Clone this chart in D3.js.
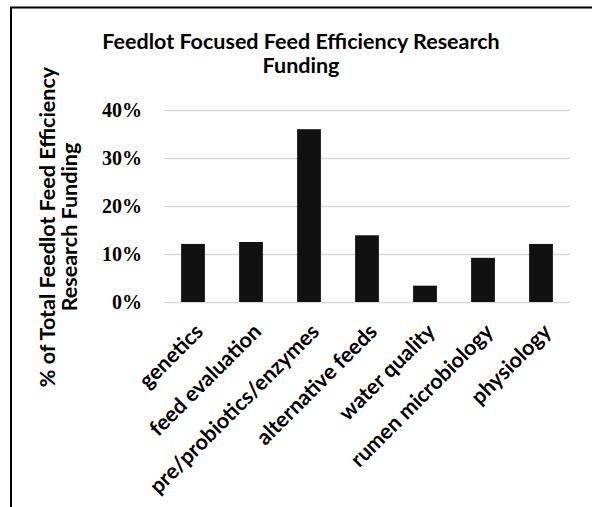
<!DOCTYPE html>
<html>
<head>
<meta charset="utf-8">
<script src="https://cdn.jsdelivr.net/npm/d3@7"></script>
<style>
  html, body { margin: 0; padding: 0; background: #fff; }
  svg { display: block; }
</style>
</head>
<body>
<svg id="chart" width="592" height="507"></svg>
<script>
const categories = ["genetics", "feed evaluation", "pre/probiotics/enzymes", "alternative feeds", "water quality", "rumen microbiology", "physiology"];
const values = [0.121, 0.125, 0.360, 0.139, 0.034, 0.092, 0.121];
const yTicks = [0, 0.1, 0.2, 0.3, 0.4];
const titleLines = ["Feedlot Focused Feed Efficiency Research", "Funding"];
const yTitleLines = ["% of Total Feedlot Feed Efficiency", "Research Funding"];

const svg = d3.select("#chart");
const sansFont = "Lato, 'Open Sans', sans-serif";
const serifFont = "'Liberation Serif', 'Times New Roman', serif";

// frame
svg.append("rect")
  .attr("x", 11).attr("y", 7.5)
  .attr("width", 700).attr("height", 700)
  .attr("fill", "none").attr("stroke", "#000").attr("stroke-width", 2);

const plot = { left: 164, right: 570, top: 110, bottom: 302 };

const x = d3.scaleBand()
  .domain(categories)
  .range([plot.left, plot.right])
  .paddingInner(0.59)
  .paddingOuter(0.295);

const y = d3.scaleLinear()
  .domain([0, 0.4])
  .range([plot.bottom, plot.top]);

// gridlines + tick labels
const yAxis = d3.axisLeft(y)
  .tickValues(yTicks)
  .tickFormat(d3.format(".0%"))
  .tickSize(-(plot.right - plot.left))
  .tickPadding(22);

const gy = svg.append("g")
  .attr("transform", `translate(${plot.left},0)`)
  .call(yAxis);
gy.select(".domain").remove();
gy.selectAll(".tick line").attr("stroke", "#d9d9d9").attr("stroke-width", 1.5);
gy.selectAll(".tick text")
  .attr("font-family", serifFont)
  .attr("font-weight", "bold")
  .attr("font-size", 20)
  .attr("fill", "#000");

// bars
svg.append("g").selectAll("rect")
  .data(categories)
  .join("rect")
  .attr("x", d => x(d))
  .attr("width", x.bandwidth())
  .attr("y", (d, i) => y(values[i]))
  .attr("height", (d, i) => y(0) - y(values[i]))
  .attr("fill", "#111");

// category labels
const xAxis = d3.axisBottom(x).tickSize(0).tickPadding(0);
const gx = svg.append("g")
  .attr("transform", `translate(0,${plot.bottom})`)
  .call(xAxis);
gx.select(".domain").remove();
gx.selectAll(".tick text")
  .attr("font-family", sansFont)
  .attr("font-weight", "bold")
  .attr("font-size", 21.5)
  .attr("fill", "#000")
  .attr("text-anchor", "end")
  .attr("dy", 0)
  .attr("y", 0)
  .attr("transform", "translate(11.5,31) rotate(-45)");

// title
svg.append("text")
  .attr("font-family", sansFont)
  .attr("font-weight", "bold")
  .attr("font-size", 21.5)
  .attr("text-anchor", "middle")
  .selectAll("tspan")
  .data(titleLines)
  .join("tspan")
  .attr("x", 301)
  .attr("y", (d, i) => 49 + i * 24)
  .text(d => d);

// y axis title
svg.append("text")
  .attr("font-family", sansFont)
  .attr("font-weight", "bold")
  .attr("font-size", 21.5)
  .attr("text-anchor", "middle")
  .attr("transform", "translate(0,227) rotate(-90)")
  .selectAll("tspan")
  .data(yTitleLines)
  .join("tspan")
  .attr("x", 0)
  .attr("y", (d, i) => 55 + i * 22)
  .text(d => d);
</script>
</body>
</html>
